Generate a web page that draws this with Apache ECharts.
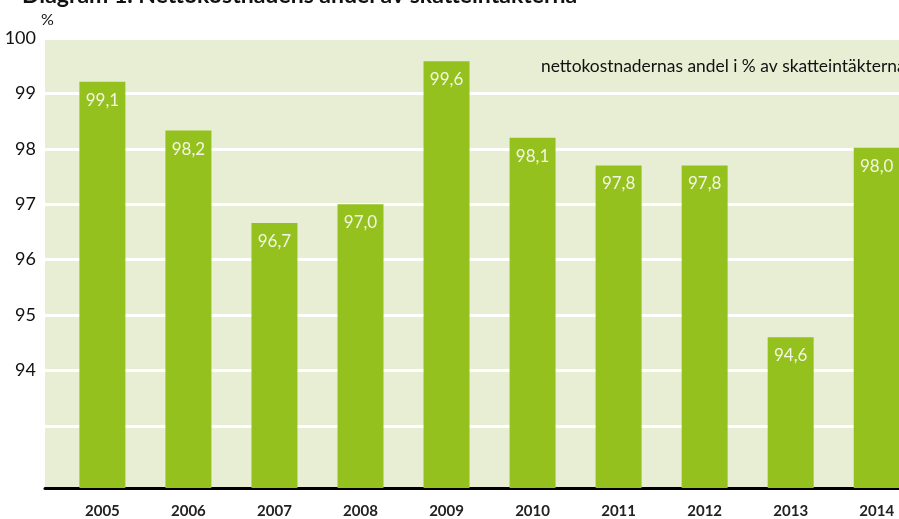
<!DOCTYPE html>
<html>
<head>
<meta charset="utf-8">
<script src="https://cdn.jsdelivr.net/npm/echarts@6/dist/echarts.min.js"></script>
<style>
  html, body { margin: 0; padding: 0; background: #fff; }
  #chart { width: 899px; height: 519px; }
</style>
</head>
<body>
<div id="chart"></div>
<script>
// årtal och staplar
const years = [2005, 2006, 2007, 2008, 2009, 2010, 2011, 2012, 2013, 2014];
const barValues = [99.21, 98.33, 96.66, 97.0, 99.58, 98.2, 97.7, 97.7, 94.6, 98.02];
const labelTexts = ["99,1", "98,2", "96,7", "97,0", "99,6", "98,1", "97,8", "97,8", "94,6", "98,0"];
const yLabelValues = [94, 95, 96, 97, 98, 99, 100];
const gridValues = [93, 94, 95, 96, 97, 98, 99, 100];

const font = "Lato, 'Open Sans', sans-serif";

let myChart = echarts.init(document.getElementById("chart"));
myChart.setOption({
  animation: false,
  title: [
    {
      text: "Diagram 1. Nettokostnadens andel av skatteintäkterna",
      left: 17,
      top: -21,
      textStyle: { fontFamily: font, fontSize: 23, fontWeight: "bold", color: "#111" },
    },
    {
      text: "%",
      left: 36,
      top: 7,
      textStyle: { fontFamily: font, fontSize: 16, fontWeight: "normal", color: "#111" },
    },
    {
      text: "nettokostnadernas andel i % av skatteintäkterna",
      left: 536,
      top: 53,
      textStyle: { fontFamily: font, fontSize: 17.4, fontWeight: "normal", color: "#111" },
    },
  ],
  grid: {
    left: 45,
    right: 0,
    top: 38,
    bottom: 28,
    show: true,
    backgroundColor: "#E8EED3",
    borderWidth: 0,
  },
  xAxis: {
    type: "value",
    min: 2004.333,
    max: 2014.259,
    axisLine: { show: true, onZero: false, lineStyle: { color: "#000", width: 3 } },
    axisTick: { show: false },
    splitLine: { show: false },
    axisLabel: {
      customValues: years,
      formatter: (v) => String(v),
      margin: 16,
      fontFamily: font,
      fontSize: 15,
      fontWeight: "bold",
      color: "#222",
    },
  },
  yAxis: {
    type: "value",
    min: 91.88,
    max: 100,
    axisLine: { show: false },
    axisTick: { show: false, customValues: gridValues },
    splitLine: { show: true, lineStyle: { color: "#fff", width: 3 } },
    axisLabel: {
      customValues: yLabelValues,
      margin: 9,
      fontFamily: font,
      fontSize: 18,
      color: "#111",
    },
  },
  series: [
    {
      type: "bar",
      barWidth: 46,
      data: years.map((y, i) => [y, barValues[i]]),
      itemStyle: { color: "#95C11F" },
      label: {
        show: true,
        position: "insideTop",
        distance: 10,
        formatter: (p) => labelTexts[p.dataIndex],
        fontFamily: font,
        fontSize: 17,
        color: "#F2F6E2",
      },
    },
  ],
});
</script>
</body>
</html>
